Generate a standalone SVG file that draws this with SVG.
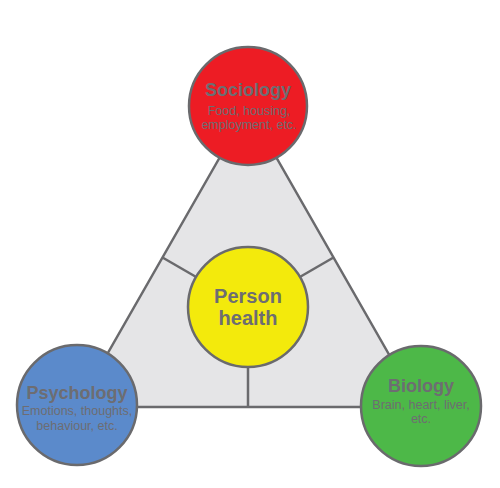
<svg xmlns="http://www.w3.org/2000/svg" width="500" height="488" viewBox="0 0 500 488">
<style>
.c{stroke:#6a6a6d;stroke-width:2.5}
.l{stroke:#6a6a6d;stroke-width:2.5;fill:none}
text{font-family:"Liberation Sans",Arial,sans-serif;fill:#6d6d72;text-anchor:middle}
.t{font-weight:bold;font-size:18px}
.s{font-size:12.5px}
.p{font-weight:bold;font-size:20px}
</style>
<rect width="500" height="488" fill="#fff"/>
<g id="connectors">
<polygon points="248,108 77,407 419,407" fill="#e5e5e7" class="l" style="fill:#e5e5e7"/>
<line x1="248" y1="307" x2="162.5" y2="257.5" class="l"/>
<line x1="248" y1="307" x2="333.5" y2="257.5" class="l"/>
<line x1="248" y1="307" x2="248" y2="407" class="l"/>
</g>
<g id="sociology">
<circle cx="248" cy="106" r="59" fill="#ed1c24" class="c"/>
<text x="248" y="96" class="t">Sociology</text>
<text x="249" y="115" class="s">Food, housing,</text>
<text x="249" y="129" class="s">employment, etc.</text>
</g>
<g id="person">
<circle cx="248" cy="307" r="60" fill="#f3ea0c" class="c"/>
<text x="248" y="303" class="p">Person</text>
<text x="248" y="325" class="p">health</text>
</g>
<g id="psychology">
<circle cx="77" cy="405" r="60" fill="#5b8acb" class="c"/>
<text x="77" y="399" class="t">Psychology</text>
<text x="77" y="415" class="s">Emotions, thoughts,</text>
<text x="77" y="430" class="s">behaviour, etc.</text>
</g>
<g id="biology">
<circle cx="421" cy="406" r="60" fill="#4db848" class="c"/>
<text x="421" y="392" class="t">Biology</text>
<text x="421" y="409" class="s">Brain, heart, liver,</text>
<text x="421" y="423" class="s">etc.</text>
</g>
</svg>
